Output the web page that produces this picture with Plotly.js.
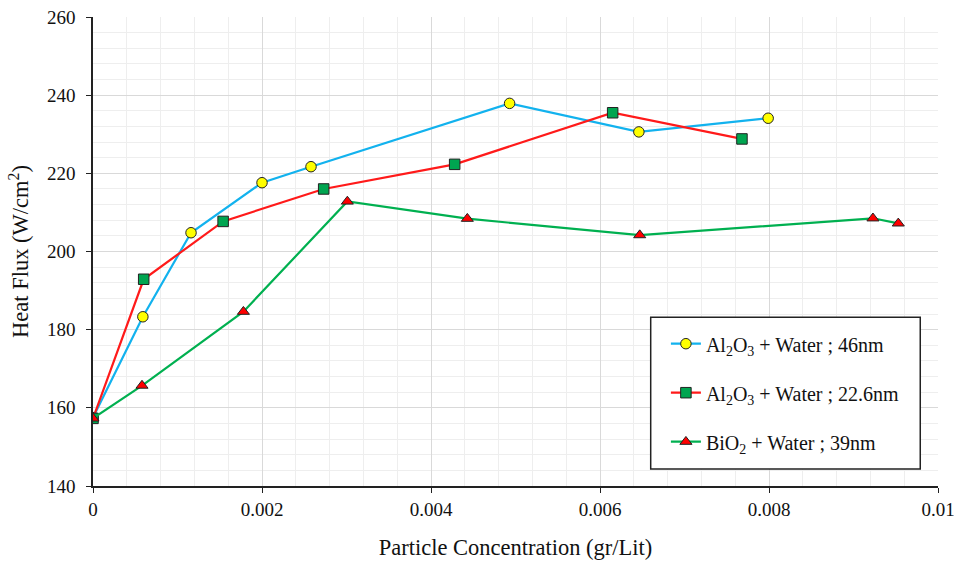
<!DOCTYPE html>
<html><head><meta charset="utf-8">
<script src="https://cdn.plot.ly/plotly-3.0.1.min.js"></script>
<style>html,body{margin:0;padding:0;background:#fff}#c{width:954px;height:561px}</style>
</head><body><div id="c"></div>
<script>
const names = ["Al<sub>2</sub>O<sub>3</sub> + Water ; 46nm", "Al<sub>2</sub>O<sub>3</sub> + Water ; 22.6nm", "BiO<sub>2</sub> + Water ; 39nm"];
const x46 = [0, 0.00059, 0.00116, 0.0020, 0.00258, 0.00493, 0.00646, 0.00799];
const y46 = [157.5, 183.3, 204.8, 217.6, 221.7, 237.9, 230.6, 234.1];
const x226 = [0, 0.00060, 0.00154, 0.00273, 0.00428, 0.00615, 0.00768];
const y226 = [157.3, 192.9, 207.7, 216.0, 222.3, 235.5, 228.8];
const xBi = [0, 0.00058, 0.00178, 0.00301, 0.00443, 0.00647, 0.00923, 0.00953];
const yBi = [157.3, 165.7, 184.6, 212.8, 208.4, 204.2, 208.5, 207.2];

const F = "Liberation Serif, Times New Roman, serif";
const traces = [
  {x:x46, y:y46, name:names[0], legendgroup:"a", mode:"lines+markers",
   line:{color:"#12b2ee", width:2.2},
   marker:{symbol:"circle", size:10.5, color:"#ffff00", line:{color:"#222", width:1}}},
  {x:x226, y:y226, name:names[1], legendgroup:"b", mode:"lines+markers",
   line:{color:"#ff1a1a", width:2.2},
   marker:{symbol:"square", size:10.5, color:"#00a550", line:{color:"#222", width:1}}},
  {x:xBi, y:yBi, name:names[2], legendgroup:"c", mode:"lines+markers",
   line:{color:"#00b050", width:2.2},
   marker:{symbol:"triangle-up", size:10.5, color:"#ff0000", line:{color:"#222", width:1}}}
];
const layout = {
  width:954, height:561,
  margin:{l:93, r:16, t:17, b:75},
  paper_bgcolor:"#fff", plot_bgcolor:"#fff",
  font:{family:F, size:19, color:"#111"},
  showlegend:true,
  xaxis:{range:[0,0.01], dtick:0.002, tick0:0, showgrid:true, gridcolor:"#d9d9d9", gridwidth:1.2,
    minor:{dtick:0.0004, showgrid:true, gridcolor:"#eeeeee", gridwidth:1},
    zeroline:false, showline:true, linecolor:"#222", linewidth:1.5, ticks:"outside", ticklen:5, tickcolor:"#222",
    ticklabeloverflow:"allow",
    tickfont:{family:F, size:19}, title:{text:"Particle Concentration (gr/Lit)", font:{family:F, size:22.5}, standoff:21}},
  yaxis:{range:[140,260], dtick:20, showgrid:true, gridcolor:"#d9d9d9", gridwidth:1.2,
    minor:{dtick:4, showgrid:true, gridcolor:"#eeeeee", gridwidth:1},
    zeroline:false, showline:true, linecolor:"#222", linewidth:1.5, ticks:"outside", ticklen:5, tickcolor:"#222",
    ticklabelstandoff:7,
    tickfont:{family:F, size:19}, title:{text:"Heat Flux (W/cm<sup>2</sup>)", font:{family:F, size:22.5}, standoff:12}},
  shapes:[{type:"rect", xref:"paper", yref:"paper", x0:0.660, x1:0.979, y0:0.036, y1:0.360,
    line:{color:"#222", width:1.5}, fillcolor:"#fff", layer:"above"}],
  legend:{x:0.678, y:0.345, xanchor:"left", yanchor:"top", bgcolor:"rgba(0,0,0,0)", borderwidth:0,
    font:{family:F, size:20, color:"#111"}, tracegroupgap:20, itemwidth:30}
};
Plotly.newPlot("c", traces, layout, {displayModeBar:false});
</script></body></html>
